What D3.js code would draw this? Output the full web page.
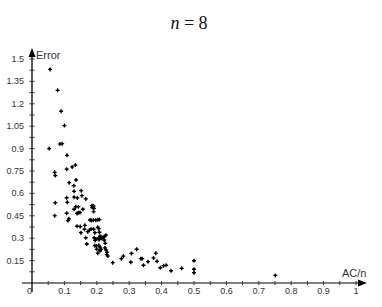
<!DOCTYPE html>
<html><head><meta charset="utf-8">
<script src="https://cdn.jsdelivr.net/npm/d3@7"></script>
<style>body{margin:0;background:#fff}svg{display:block}.ttl{font-family:"Liberation Serif","DejaVu Serif",serif}</style>
</head><body>
<script>
const xTickValues = [0.1,0.2,0.3,0.4,0.5,0.6,0.7,0.8,0.9,1];
const xTickLabels = ["0.1","0.2","0.3","0.4","0.5","0.6","0.7","0.8","0.9","1"];
const yTickValues = [0.15,0.3,0.45,0.6,0.75,0.9,1.05,1.2,1.35,1.5];
const yTickLabels = ["0.15","0.3","0.45","0.6","0.75","0.9","1.05","1.2","1.35","1.5"];
const acn = [0.056,0.079,0.090,0.100,0.053,0.086,0.093,0.108,0.124,0.134,0.107,0.070,0.072,
 0.115,0.129,0.136,0.072,0.070,0.107,0.109,0.107,0.111,0.114,
 0.130,0.152,0.154,0.140,0.130,0.135,0.143,0.130,0.143,0.148,0.139,0.166,0.157,0.139,0.149,0.151,0.163,0.162,0.166,0.169,0.172,0.177,0.182,
 0.185,0.190,0.186,0.191,0.190,
 0.179,0.183,0.189,0.197,0.203,0.208,
 0.190,0.194,0.203,0.206,0.208,0.210,0.212,0.215,0.219,0.223,0.228,
 0.192,0.197,0.195,0.205,0.207,
 0.194,0.199,0.206,0.200,0.203,0.210,0.213,0.210,0.223,0.226,0.225,0.229,0.232,0.231,0.234,
 0.249,0.276,0.282,
 0.307,0.305,0.323,0.336,0.340,0.344,0.358,0.375,0.382,0.386,0.396,0.406,0.414,0.429,0.462,0.500,0.500,0.500,0.751];
const error = [1.43,1.29,1.15,1.054,0.90,0.93,0.933,0.855,0.777,0.79,0.762,0.741,0.72,
 0.672,0.652,0.69,0.538,0.451,0.571,0.54,0.467,0.418,0.43,
 0.614,0.618,0.585,0.57,0.575,0.511,0.511,0.494,0.471,0.472,0.466,0.563,0.494,0.38,0.378,0.337,0.386,0.36,0.303,0.261,0.344,0.353,0.362,
 0.518,0.515,0.505,0.50,0.478,
 0.422,0.418,0.42,0.421,0.424,0.425,
 0.36,0.337,0.373,0.364,0.34,0.313,0.31,0.30,0.305,0.31,0.32,
 0.303,0.295,0.285,0.30,0.29,
 0.25,0.248,0.252,0.226,0.20,0.24,0.225,0.216,0.288,0.266,0.235,0.22,0.205,0.19,0.18,
 0.136,0.163,0.18,
 0.198,0.139,0.226,0.163,0.163,0.119,0.143,0.168,0.199,0.145,0.102,0.116,0.119,0.082,0.098,0.149,0.092,0.069,0.051];

const W=382,H=307;
const svg=d3.select("body").append("svg").attr("width",W).attr("height",H);
const x=d3.scaleLinear().domain([0,1]).range([32,356]);
const y=d3.scaleLinear().domain([0,1.5]).range([283,59]);
const font="Liberation Sans, Arial, sans-serif";

// title
const t=svg.append("text").attr("class","ttl").attr("x",189).attr("y",29).attr("text-anchor","middle")
 .attr("font-size",18).attr("fill","#111");
t.append("tspan").attr("font-style","italic").text("n");
t.append("tspan").text(" = 8");

// axes lines
const x0=x(0), y0=y(0);
svg.append("line").attr("x1",22).attr("x2",360).attr("y1",y0).attr("y2",y0).attr("stroke","#000").attr("stroke-width",1);
svg.append("line").attr("x1",x0).attr("x2",x0).attr("y1",292).attr("y2",54).attr("stroke","#000").attr("stroke-width",1.3);
svg.append("path").attr("d",`M${x0},48L${x0-3.5},57L${x0+3.5},57Z`).attr("fill","#000");
svg.append("path").attr("d",`M367,${y0}L358,${y0-3.5}L358,${y0+3.5}Z`).attr("fill","#000");

// ticks
const xMinor=d3.range(1,21).map(i=>i*0.05);
svg.selectAll(".xt").data(xMinor).enter().append("line")
 .attr("x1",d=>x(d)).attr("x2",d=>x(d)).attr("y1",y0-2).attr("y2",y0+2).attr("stroke","#333");
const yMinor=d3.range(1,21).map(i=>i*0.075);
svg.selectAll(".yt").data(yMinor).enter().append("line")
 .attr("x1",x0-2.5).attr("x2",x0+2.5).attr("y1",d=>y(d)).attr("y2",d=>y(d)).attr("stroke","#333");

svg.selectAll(".xl").data(xTickValues).enter().append("text")
 .attr("x",d=>x(d)).attr("y",293.5).attr("text-anchor","middle")
 .attr("font-family",font).attr("font-size",9).attr("fill","#333").text((d,i)=>xTickLabels[i]);
svg.selectAll(".yl").data(yTickValues).enter().append("text")
 .attr("x",24).attr("y",d=>y(d)+3).attr("text-anchor","end")
 .attr("font-family",font).attr("font-size",9).attr("fill","#333").text((d,i)=>yTickLabels[i]);
svg.append("text").attr("x",29.5).attr("y",293.5).attr("text-anchor","middle")
 .attr("font-family",font).attr("font-size",9).attr("fill","#333").text("0");

svg.append("text").attr("x",36).attr("y",59).attr("font-family",font).attr("font-size",11).attr("fill","#333").text("Error");
svg.append("text").attr("x",342).attr("y",277).attr("font-family",font).attr("font-size",11).attr("fill","#333").text("AC/n");

// points
const pts=acn.map((v,i)=>[v,error[i]]);
const g=svg.append("g");
g.selectAll("path.p").data(pts).enter().append("path")
 .attr("d",d=>`M${x(d[0])-2},${y(d[1])}H${x(d[0])+2}M${x(d[0])},${y(d[1])-2}V${y(d[1])+2}`)
 .attr("stroke","#000").attr("stroke-width",1.3);
g.selectAll("circle").data(pts).enter().append("circle")
 .attr("cx",d=>x(d[0])).attr("cy",d=>y(d[1])).attr("r",1.1).attr("fill","#000");
</script>
</body></html>
